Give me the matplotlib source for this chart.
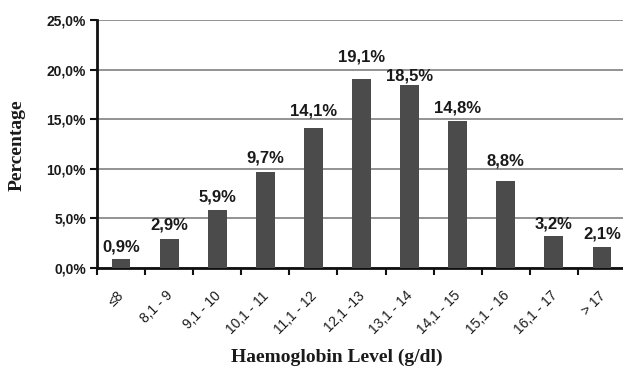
import matplotlib
matplotlib.use("Agg")
import matplotlib.pyplot as plt
import matplotlib.transforms as mtransforms
from matplotlib.ticker import FixedLocator, FuncFormatter

categories = ["≤8", "8,1 - 9", "9,1 - 10", "10,1 - 11", "11,1 - 12", "12,1 -13",
              "13,1 - 14", "14,1 - 15", "15,1 - 16", "16,1 - 17", "> 17"]
percentages = [0.9, 2.9, 5.9, 9.7, 14.1, 19.1, 18.5, 14.8, 8.8, 3.2, 2.1]
y_ticks = [0, 5, 10, 15, 20, 25]

# vertical gap (points) between bar top and centre of its value label
label_gap = [9, 10, 9, 10, 12.5, 15.5, 6, 10, 14, 9, 9.5]

fig = plt.figure(figsize=(6.23, 3.69), dpi=100)
ax = fig.add_axes([97 / 623, 101 / 369, 529 / 623, 247.6 / 369])

x = list(range(len(categories)))
ax.bar(x, percentages, width=0.39, color="#4b4b4b", zorder=3)

ax.set_xlim(-0.5, len(categories) - 0.5)
ax.set_ylim(0, 25)

ax.yaxis.set_major_locator(FixedLocator(y_ticks))
ax.yaxis.set_major_formatter(FuncFormatter(lambda v, p: f"{v:.1f}%".replace(".", ",")))
ax.grid(axis="y", color="#8a8a8a", linewidth=1.3, zorder=0)

for s in ["top", "right"]:
    ax.spines[s].set_visible(False)
for s in ["left", "bottom"]:
    ax.spines[s].set_linewidth(2.0)
    ax.spines[s].set_color("#111111")

# category ticks sit on the boundaries, labels under the bars
ax.xaxis.set_major_locator(FixedLocator([i - 0.5 for i in range(len(categories) + 1)]))
ax.xaxis.set_major_formatter(FuncFormatter(lambda v, p: ""))
ax.tick_params(axis="x", length=5, width=1.5, direction="out", color="#111111")
ax.tick_params(axis="y", length=5, width=1.5, direction="out", color="#111111", pad=3)

for lab in ax.get_yticklabels():
    lab.set_fontfamily("Liberation Sans")
    lab.set_fontweight("bold")
    lab.set_fontsize(10)
    lab.set_color("#1a1a1a")

shift = mtransforms.offset_copy(ax.get_xaxis_transform(), fig=fig, x=0.8, y=-18.4, units="points")
for i, c in enumerate(categories):
    ax.text(i, 0, c, transform=shift, rotation=45, rotation_mode="anchor",
            ha="right", va="center", fontsize=10, family="Liberation Sans",
            color="#1a1a1a")

for i, v in enumerate(percentages):
    ax.annotate(f"{v:.1f}%".replace(".", ","), xy=(i, v), xytext=(0, label_gap[i]),
                textcoords="offset points", ha="center", va="center",
                fontsize=12, fontweight="bold", family="Liberation Sans",
                color="#1a1a1a", annotation_clip=False)

fig.text(17.5 / 623, 1 - 145 / 369, "Percentage", rotation=90, ha="center", va="center",
         fontsize=14, fontweight="bold", family="Liberation Serif", color="#1a1a1a")
fig.text(336.5 / 623, 1 - 357 / 369, "Haemoglobin Level (g/dl)", ha="center", va="center",
         fontsize=14, fontweight="bold", family="Liberation Serif", color="#1a1a1a")

fig.savefig("out.png", dpi=100)
